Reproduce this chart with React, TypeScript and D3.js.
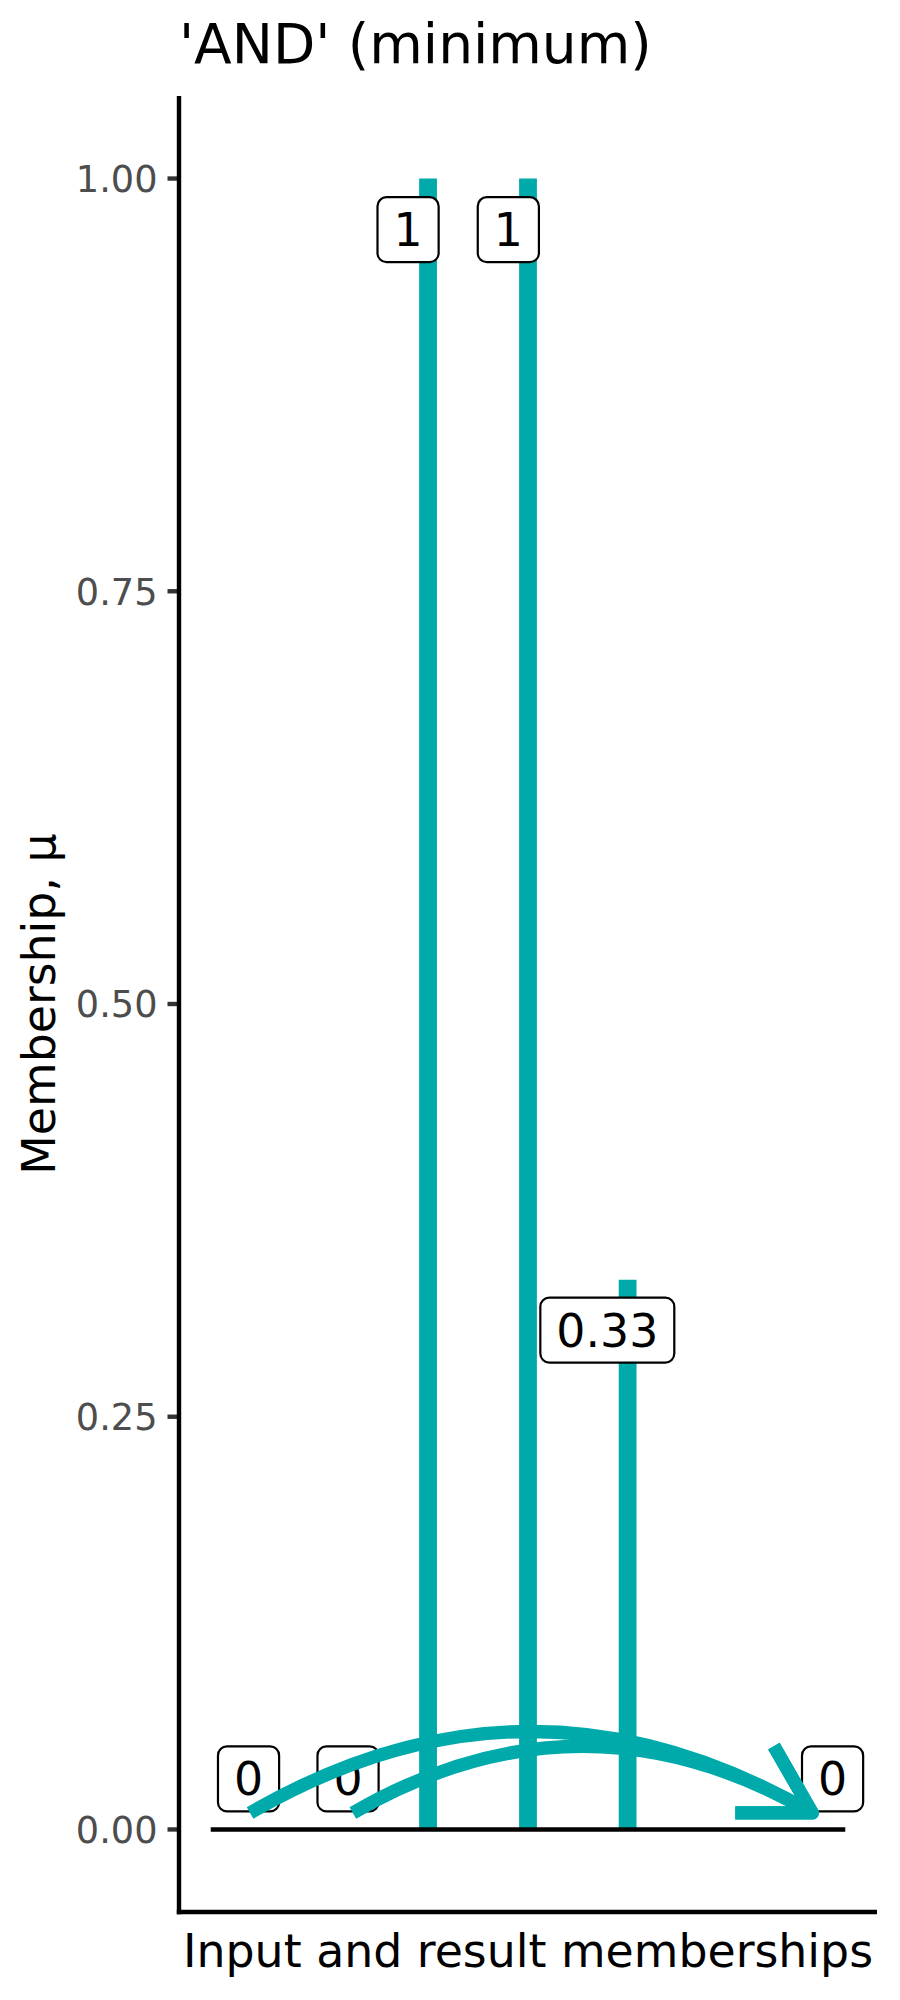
import React from "react";
import * as d3 from "d3";

// membership values
const barX = [0.3425, 0.5, 0.657];
const barMu = [1, 1, 0.333];

const inputX = [0.062, 0.224];
const resultX = 0.948;
const arrowMu = 0.01;

const labelText = ["1", "1", "0.33", "0", "0", "0"];
const labelX = [0.311, 0.469, 0.625, 0.0596, 0.2164, 0.98];
const labelY = [0.969, 0.969, 0.3025, 0.0306, 0.0306, 0.0306];

const yTicks = [0, 0.25, 0.5, 0.75, 1];
const xExtent = [0, 1];

const teal = "#00AAAA";
const font = "DejaVu Sans";

function textWidth(txt: string, size: number) {
  const c = document.createElement("canvas").getContext("2d");
  if (!c) return txt.length * size * 0.6;
  c.font = `${size}px "${font}"`;
  return c.measureText(txt).width;
}

export default function App() {
  const width = 900;
  const height = 2000;
  const panel = { left: 179, right: 877, top: 96, bottom: 1912 };

  const x = d3.scaleLinear()
    .domain([xExtent[0] - 0.05, xExtent[1] + 0.05])
    .range([panel.left, panel.right]);
  const y = d3.scaleLinear()
    .domain([-0.05, 1.05])
    .range([panel.bottom, panel.top]);
  const fmt = d3.format(".2f");

  const barW = 17.8;
  const curveW = 13.3;
  const labelSize = 45.8;
  const pad = 16;
  const boxH = 65;

  // curved arrows from inputs to the result
  const curves = inputX.map((sx) => {
    const x0 = x(sx), y0 = y(arrowMu), x1 = x(resultX), y1 = y(arrowMu);
    const dx = x1 - x0, dy = y1 - y0;
    const len = Math.hypot(dx, dy);
    const h = 0.29 * len;
    // perpendicular pointing up
    const nx = dy / len, ny = -dx / len;
    const cx = (x0 + x1) / 2 + nx * h;
    const cy = (y0 + y1) / 2 + ny * h;
    const p = d3.path();
    p.moveTo(x0, y0);
    p.quadraticCurveTo(cx, cy, x1, y1);
    // arrow head, open, 30 degrees
    const ang = Math.atan2(y1 - cy, x1 - cx);
    const aLen = 77;
    const a = (30 * Math.PI) / 180;
    const head = d3.path();
    head.moveTo(x1 - aLen * Math.cos(ang - a), y1 - aLen * Math.sin(ang - a));
    head.lineTo(x1, y1);
    head.lineTo(x1 - aLen * Math.cos(ang + a), y1 - aLen * Math.sin(ang + a));
    return { d: p.toString(), head: head.toString() };
  });

  return (
    <svg width={width} height={height} style={{ position: "absolute", left: 0, top: 0, background: "#fff" }}
      fontFamily={font}>
      <rect width={width} height={height} fill="#fff" />
      <text x={179} y={63} fontSize={55} fill="#000">'AND' (minimum)</text>

      {/* y axis */}
      {yTicks.map((t) => (
        <g key={t}>
          <line x1={panel.left - 11.5} x2={panel.left} y1={y(t)} y2={y(t)} stroke="#333333" strokeWidth={4.4} />
          <text x={157.5} y={y(t) + 13.3} fontSize={36.7} fill="#4D4D4D" textAnchor="end">{fmt(t)}</text>
        </g>
      ))}
      <line x1={panel.left} x2={panel.left} y1={panel.top} y2={panel.bottom + 2.2} stroke="#000" strokeWidth={4.4} />
      <line x1={panel.left - 2.2} x2={panel.right} y1={panel.bottom} y2={panel.bottom} stroke="#000" strokeWidth={4.4} />
      <text transform={`translate(55,${(panel.top + panel.bottom) / 2}) rotate(-90)`} fontSize={45.8} textAnchor="middle" fill="#000">
        Membership, μ
      </text>
      <text x={(panel.left + panel.right) / 2} y={1967} fontSize={45.8} textAnchor="middle" fill="#000">
        Input and result memberships
      </text>

      {/* memberships */}
      {barX.map((bx, i) => (
        <line key={i} x1={x(bx)} x2={x(bx)} y1={y(0)} y2={y(barMu[i])} stroke={teal} strokeWidth={barW} />
      ))}
      <line x1={x(xExtent[0])} x2={x(xExtent[1])} y1={y(0)} y2={y(0)} stroke="#000" strokeWidth={4.4} />

      {labelText.map((t, i) => {
        const w = textWidth(t, labelSize) + 2 * pad;
        const cx = x(labelX[i]);
        const cy = y(labelY[i]);
        return (
          <g key={i}>
            <rect x={cx - w / 2} y={cy - boxH / 2} width={w} height={boxH} rx={9} ry={9}
              fill="#fff" stroke="#000" strokeWidth={2.2} />
            <text x={cx} y={cy + 16.5} fontSize={labelSize} textAnchor="middle" fill="#000">{t}</text>
          </g>
        );
      })}

      {curves.map((c, i) => (
        <g key={i} fill="none" stroke={teal} strokeWidth={curveW}>
          <path d={c.d} strokeLinecap="butt" />
          <path d={c.head} strokeLinecap="butt" strokeLinejoin="round" />
        </g>
      ))}
    </svg>
  );
}
